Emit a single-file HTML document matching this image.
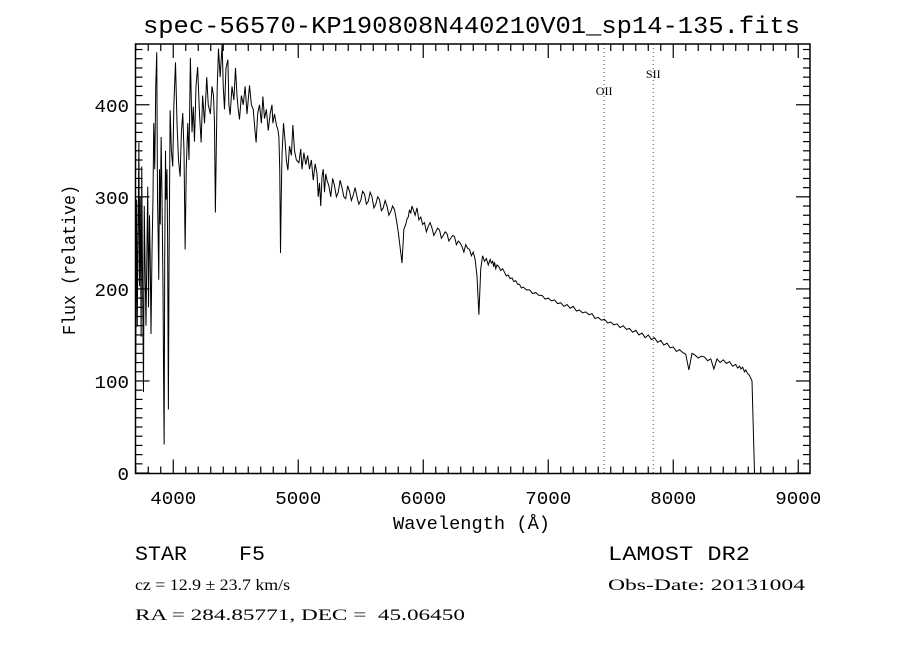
<!DOCTYPE html>
<html>
<head>
<meta charset="utf-8">
<style>
  html,body{margin:0;padding:0;background:#fff;}
  svg{display:block;}
  .t{font-family:"Liberation Mono",monospace;fill:#000;}
  .s{font-family:"Liberation Serif",serif;fill:#000;}
</style>
</head>
<body>
<svg id="chart" width="900" height="650" viewBox="0 0 900 650" xmlns="http://www.w3.org/2000/svg">
  <rect x="0" y="0" width="900" height="650" fill="#fff"/>
  <text class="t" x="143" y="33" font-size="24" textLength="657" lengthAdjust="spacingAndGlyphs">spec-56570-KP190808N440210V01_sp14-135.fits</text>
  <g id="lines"></g>
  <path id="spec" fill="none" stroke="#000" stroke-width="1"/>
  <g id="axes"></g>
  <text class="t" x="393" y="529" font-size="18" textLength="157" lengthAdjust="spacingAndGlyphs">Wavelength (Å)</text>
  <text class="t" x="0" y="0" font-size="18" textLength="150" lengthAdjust="spacingAndGlyphs" transform="translate(75,335) rotate(-90)">Flux (relative)</text>
  <text class="t" x="135" y="560" font-size="20" xml:space="preserve" textLength="130" lengthAdjust="spacingAndGlyphs">STAR    F5</text>
  <text class="s" x="135" y="590" font-size="16" textLength="155" lengthAdjust="spacingAndGlyphs">cz = 12.9 ± 23.7 km/s</text>
  <text class="s" x="135" y="620" font-size="16" xml:space="preserve" textLength="330" lengthAdjust="spacingAndGlyphs">RA = 284.85771, DEC =  45.06450</text>
  <text class="t" x="608" y="560" font-size="20" textLength="142" lengthAdjust="spacingAndGlyphs">LAMOST DR2</text>
  <text class="s" x="608" y="590" font-size="16" textLength="197" lengthAdjust="spacingAndGlyphs">Obs-Date: 20131004</text>
</svg>
<script>
const wavelengths = [3700,3707,3712,3718,3725,3730,3736,3743,3748,3755,3762,3768,3775,3782,3790,3796,3802,3810,3816,3822,3830,3838,3844,3852,3860,3868,3874,3880,3884,3890,3896,3903,3910,3918,3924,3927,3932,3938,3943,3950,3955,3961,3966,3975,3985,3996,4005,4018,4030,4042,4055,4065,4076,4086,4095,4104,4116,4126,4137,4150,4160,4170,4182,4195,4210,4223,4235,4250,4268,4280,4297,4310,4322,4330,4337,4345,4352,4362,4375,4391,4400,4410,4422,4437,4445,4455,4470,4485,4498,4510,4520,4530,4545,4560,4575,4590,4610,4625,4640,4655,4663,4675,4690,4705,4717,4730,4745,4760,4775,4790,4797,4810,4825,4837,4845,4852,4858,4864,4870,4882,4895,4905,4917,4930,4945,4957,4970,4985,5005,5020,5030,5045,5060,5075,5090,5105,5120,5135,5150,5160,5170,5180,5190,5200,5210,5220,5230,5245,5260,5275,5290,5305,5320,5335,5350,5365,5380,5395,5410,5425,5440,5455,5470,5485,5500,5515,5530,5545,5560,5575,5590,5605,5620,5635,5650,5665,5680,5695,5710,5725,5740,5755,5770,5785,5800,5815,5830,5845,5860,5870,5880,5890,5900,5910,5920,5935,5950,5965,5980,5995,6010,6025,6040,6055,6070,6085,6100,6115,6130,6145,6160,6175,6190,6205,6220,6235,6250,6265,6280,6295,6310,6325,6340,6355,6370,6385,6400,6415,6430,6445,6460,6475,6490,6505,6520,6535,6545,6556,6563,6570,6580,6590,6605,6620,6635,6650,6665,6680,6695,6710,6725,6740,6755,6770,6785,6800,6825,6850,6875,6900,6925,6950,6975,7000,7025,7050,7075,7100,7125,7150,7175,7200,7225,7250,7275,7300,7325,7350,7375,7400,7425,7450,7475,7500,7525,7550,7575,7600,7625,7650,7675,7700,7725,7750,7775,7800,7825,7850,7875,7900,7925,7950,7975,8000,8025,8050,8075,8100,8125,8150,8175,8200,8225,8250,8275,8300,8325,8350,8375,8400,8425,8450,8475,8500,8515,8530,8542,8555,8570,8580,8595,8610,8630,8650,8662,8675,8690,8700,8725,8750,8775,8800,8825,8850,8875,8900,8925,8950,8970,8980,8990,8995,9000,9003];
const fluxes = [120,297,159,250,359,203,300,148,333,200,88,290,220,160,250,311,180,280,230,151,240,300,380,330,420,457,300,250,210,330,270,365,300,200,80,31,240,350,297,330,250,69,220,394,350,333,400,446,380,340,322,370,391,350,243,330,380,340,451,370,398,360,420,441,390,359,410,380,430,400,390,420,410,380,283,360,420,461,430,467,420,395,440,449,400,389,420,405,440,410,395,384,410,400,420,390,421,400,395,370,359,390,400,380,409,385,395,372,390,400,380,390,378,373,365,330,239,300,345,380,360,340,329,355,345,378,350,340,337,352,330,348,335,345,330,340,318,336,325,300,315,290,322,330,305,325,318,312,300,320,312,300,305,318,310,300,298,312,306,296,302,310,300,292,296,306,303,292,295,305,300,288,292,300,297,285,288,296,290,280,284,290,286,275,262,245,228,265,270,276,278,286,282,290,286,280,288,275,278,270,272,262,268,272,266,258,262,266,264,255,258,262,260,252,255,258,257,248,252,250,246,240,248,244,243,236,240,232,214,172,222,236,230,233,226,232,228,230,224,229,222,226,224,220,222,218,214,215,211,212,208,209,205,205,201,202,199,199,195,196,193,193,189,190,187,188,184,185,181,183,179,181,176,177,174,175,172,173,168,169,166,167,163,164,161,162,158,160,156,157,153,155,150,152,147,150,145,147,142,144,139,141,136,137,132,134,131,129,112,130,128,125,127,126,122,124,113,124,120,123,119,121,116,118,114,116,113,115,110,112,108,106,100,0];
const yTicks = [0,100,200,300,400];
const xTicks = [4000,5000,6000,7000,8000,9000];
const lineNames = ["OII","SII"];
const lineWaves = [7447,7840];

const X0=135.5, X1=810, Y0=473.5, Y1=44;
const WMIN=3698, WMAX=9094, FMIN=-0.5, FMAX=466;
function sx(w){return X0+(w-WMIN)/(WMAX-WMIN)*(X1-X0);}
function sy(f){return Y0-(f-FMIN)/(FMAX-FMIN)*(Y0-Y1);}
const NS="http://www.w3.org/2000/svg";

const n=Math.min(wavelengths.length,fluxes.length);
let d="";
for(let i=0;i<n;i++){
  d+=(i?"L":"M")+sx(wavelengths[i]).toFixed(2)+","+Math.min(Y0,Math.max(Y1,sy(fluxes[i]))).toFixed(2);
}
document.getElementById("spec").setAttribute("d",d);

const lg=document.getElementById("lines");
const labelY=[95,78];
for(let i=0;i<lineWaves.length;i++){
  const x=sx(lineWaves[i]);
  const l=document.createElementNS(NS,"line");
  l.setAttribute("x1",x);l.setAttribute("x2",x);l.setAttribute("y1",Y1);l.setAttribute("y2",Y0);
  l.setAttribute("stroke","#8b3030");l.setAttribute("stroke-dasharray","1,3");l.setAttribute("stroke-width","1");
  
  
  lg.appendChild(l);
  const t=document.createElementNS(NS,"text");
  t.setAttribute("x",x);t.setAttribute("y",labelY[i]);t.setAttribute("text-anchor","middle");
  t.setAttribute("font-size","12");t.setAttribute("class","s");
  t.textContent=lineNames[i];
  
  
  lg.appendChild(t);
}

const ax=document.getElementById("axes");
function ln(x1,y1,x2,y2,name){
  const l=document.createElementNS(NS,"line");
  l.setAttribute("x1",x1);l.setAttribute("y1",y1);l.setAttribute("x2",x2);l.setAttribute("y2",y2);
  l.setAttribute("stroke","#000");l.setAttribute("stroke-width","1.2");
  
  
  ax.appendChild(l);
}
const fr=document.createElementNS(NS,"rect");
fr.setAttribute("x",X0);fr.setAttribute("y",Y1);fr.setAttribute("width",X1-X0);fr.setAttribute("height",Y0-Y1);
fr.setAttribute("fill","none");fr.setAttribute("stroke","#000");fr.setAttribute("stroke-width","1.5");


ax.appendChild(fr);
for(let w=3700;w<=WMAX;w+=100){
  const x=sx(w);const maj=(w%1000===0);const len=maj?14:7;
  ln(x,Y0,x,Y0-len,"x-tick");ln(x,Y1,x,Y1+len,"x-tick-top");
}
for(let f=0;f<=FMAX;f+=10){
  const y=sy(f);const maj=(f%100===0);const len=maj?14:7;
  ln(X0,y,X0+len,y,"y-tick");ln(X1,y,X1-len,y,"y-tick-right");
}
xTicks.forEach(v=>{
  const t=document.createElementNS(NS,"text");
  const w=String(v).length*11.5;
  t.setAttribute("x",sx(v)-w/2);t.setAttribute("y",504);
  t.setAttribute("font-size","18");t.setAttribute("class","t");
  t.setAttribute("textLength",w);t.setAttribute("lengthAdjust","spacingAndGlyphs");
  t.textContent=v;
  
  
  ax.appendChild(t);
});
yTicks.forEach(v=>{
  const t=document.createElementNS(NS,"text");
  const w=String(v).length*11.5;
  t.setAttribute("x",129-w);t.setAttribute("y",sy(v)+7);
  t.setAttribute("font-size","18");t.setAttribute("class","t");
  t.setAttribute("textLength",w);t.setAttribute("lengthAdjust","spacingAndGlyphs");
  t.textContent=v;
  
  
  ax.appendChild(t);
});
</script>
</body>
</html>
